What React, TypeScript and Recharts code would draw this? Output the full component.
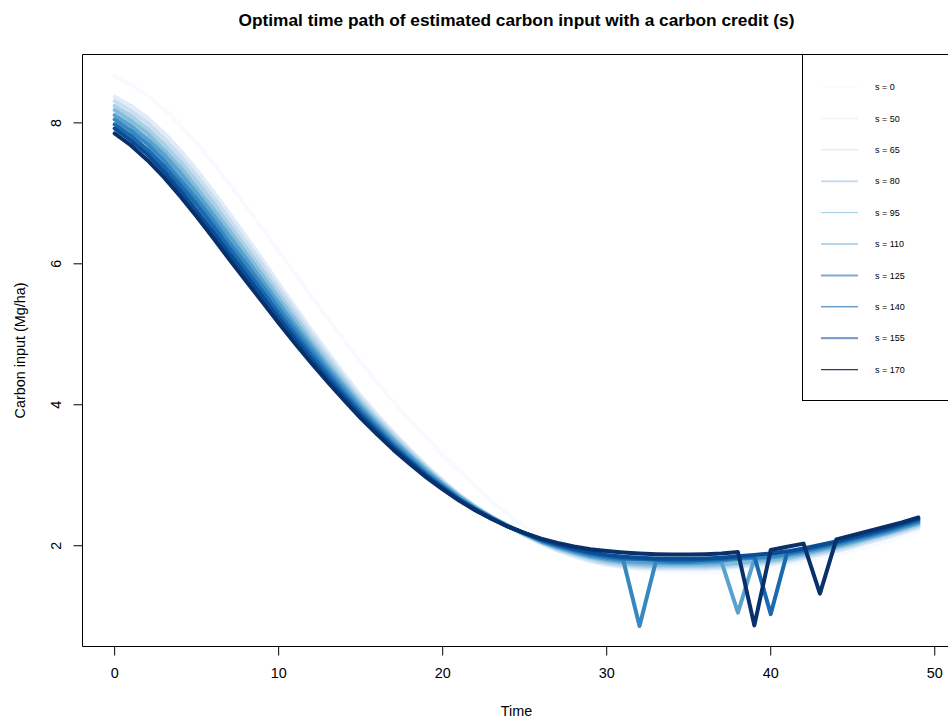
import { LineChart, Line, XAxis, YAxis, ReferenceArea } from 'recharts';

const FONT = '"Liberation Sans", Arial, Helvetica, sans-serif';

const TIME = [
  0, 1, 2, 3, 4, 5, 6, 7, 8, 9, 10, 11, 12, 13, 14, 15, 16, 17, 18, 19, 20, 21, 22, 23, 24,
  25, 26, 27, 28, 29, 30, 31, 32, 33, 34, 35, 36, 37, 38, 39, 40, 41, 42, 43, 44, 45, 46, 47, 48, 49,
];

const CREDITS = [0, 50, 65, 80, 95, 110, 125, 140, 155, 170];
const LEGEND_LABELS = ['s = 0', 's = 50', 's = 65', 's = 80', 's = 95', 's = 110', 's = 125', 's = 140', 's = 155', 's = 170'];

const X_TICKS = [0, 10, 20, 30, 40, 50];
const Y_TICKS = [2, 4, 6, 8];

// carbon input (Mg/ha) per year, one list per credit level
const S0 = [
  8.66, 8.54, 8.39, 8.2, 7.97, 7.71, 7.43, 7.13, 6.82, 6.5, 6.18, 5.86, 5.54, 5.22, 4.91, 4.61, 4.32, 4.04, 3.78, 3.53, 3.29, 3.06, 2.84, 2.63, 2.44,
  2.27, 2.12, 1.99, 1.87, 1.79, 1.73, 1.69, 1.66, 1.64, 1.63, 1.62, 1.62, 1.63, 1.64, 1.66, 1.69, 1.72, 1.77, 1.82, 1.87, 1.93, 1.99, 2.06, 2.13, 2.21,
];
const S50 = [
  8.37, 8.24, 8.07, 7.86, 7.61, 7.33, 7.03, 6.71, 6.39, 6.06, 5.72, 5.39, 5.06, 4.74, 4.43, 4.13, 3.86, 3.61, 3.37, 3.14, 2.93, 2.73, 2.56, 2.41, 2.28,
  2.15, 2.03, 1.93, 1.85, 1.78, 1.73, 1.7, 1.68, 1.67, 1.67, 1.67, 1.67, 1.68, 1.7, 1.72, 1.74, 1.77, 1.82, 1.87, 1.92, 1.98, 2.05, 2.11, 2.18, 2.25,
];
const S65 = [
  8.31, 8.17, 8.0, 7.78, 7.53, 7.25, 6.95, 6.63, 6.31, 5.99, 5.65, 5.33, 5.0, 4.69, 4.38, 4.09, 3.83, 3.58, 3.34, 3.12, 2.91, 2.72, 2.55, 2.41, 2.28,
  2.15, 2.04, 1.94, 1.87, 1.8, 1.75, 1.72, 1.7, 1.69, 1.69, 1.69, 1.69, 1.7, 1.72, 1.74, 1.76, 1.79, 1.84, 1.89, 1.94, 2.0, 2.07, 2.13, 2.2, 2.27,
];
const S80 = [
  8.24, 8.1, 7.92, 7.7, 7.45, 7.17, 6.87, 6.55, 6.23, 5.91, 5.58, 5.26, 4.94, 4.64, 4.34, 4.05, 3.79, 3.55, 3.32, 3.1, 2.9, 2.71, 2.55, 2.4, 2.28,
  2.16, 2.05, 1.96, 1.88, 1.82, 1.77, 1.74, 1.72, 1.71, 1.71, 1.71, 1.71, 1.72, 1.74, 1.76, 1.78, 1.81, 1.86, 1.91, 1.96, 2.02, 2.09, 2.15, 2.22, 2.29,
];
const S95 = [
  8.18, 8.03, 7.85, 7.62, 7.37, 7.08, 6.78, 6.47, 6.15, 5.84, 5.51, 5.2, 4.88, 4.58, 4.29, 4.01, 3.76, 3.52, 3.29, 3.08, 2.88, 2.7, 2.54, 2.4, 2.28,
  2.16, 2.06, 1.97, 1.9, 1.84, 1.79, 1.76, 1.74, 1.73, 1.73, 1.73, 1.73, 1.74, 1.76, 1.78, 1.8, 1.83, 1.88, 1.93, 1.98, 2.04, 2.11, 2.17, 2.24, 2.31,
];
const S110 = [
  8.11, 7.96, 7.77, 7.55, 7.29, 7.0, 6.7, 6.39, 6.08, 5.76, 5.44, 5.13, 4.83, 4.53, 4.25, 3.97, 3.72, 3.49, 3.27, 3.06, 2.87, 2.69, 2.53, 2.4, 2.28,
  2.17, 2.06, 1.98, 1.91, 1.85, 1.81, 1.78, 1.77, 1.76, 1.75, 1.75, 1.76, 1.77, 1.05, 1.81, 1.83, 1.86, 1.9, 1.95, 2.0, 2.06, 2.12, 2.18, 2.25, 2.32,
];
const S125 = [
  8.05, 7.89, 7.7, 7.47, 7.2, 6.92, 6.62, 6.3, 6.0, 5.69, 5.37, 5.07, 4.77, 4.48, 4.2, 3.93, 3.69, 3.45, 3.24, 3.03, 2.85, 2.67, 2.52, 2.39, 2.27,
  2.17, 2.07, 1.99, 1.93, 1.87, 1.83, 1.8, 0.86, 1.78, 1.77, 1.77, 1.78, 1.79, 1.81, 1.83, 1.85, 1.88, 1.92, 1.97, 2.02, 2.08, 2.14, 2.2, 2.27, 2.34,
];
const S140 = [
  7.98, 7.82, 7.62, 7.39, 7.12, 6.84, 6.54, 6.22, 5.92, 5.61, 5.3, 5.0, 4.71, 4.43, 4.15, 3.89, 3.65, 3.42, 3.21, 3.01, 2.83, 2.66, 2.52, 2.39, 2.27,
  2.18, 2.08, 2.01, 1.94, 1.89, 1.85, 1.82, 1.81, 1.8, 1.79, 1.79, 1.8, 1.81, 1.83, 1.85, 1.03, 1.9, 1.94, 1.99, 2.04, 2.1, 2.16, 2.22, 2.29, 2.36,
];
const S155 = [
  7.92, 7.75, 7.55, 7.31, 7.04, 6.75, 6.45, 6.14, 5.84, 5.54, 5.23, 4.94, 4.65, 4.37, 4.11, 3.85, 3.62, 3.39, 3.19, 2.99, 2.82, 2.65, 2.51, 2.38, 2.27,
  2.18, 2.09, 2.02, 1.96, 1.91, 1.87, 1.845, 1.83, 1.82, 1.815, 1.815, 1.82, 1.83, 1.85, 1.87, 1.89, 1.92, 1.96, 2.01, 2.06, 2.12, 2.18, 2.24, 2.31, 2.38,
];
const S170 = [
  7.85, 7.68, 7.47, 7.23, 6.96, 6.67, 6.37, 6.06, 5.76, 5.46, 5.16, 4.87, 4.59, 4.32, 4.06, 3.81, 3.58, 3.36, 3.16, 2.97, 2.8, 2.64, 2.5, 2.38, 2.27,
  2.18, 2.1, 2.04, 1.99, 1.95, 1.925, 1.905, 1.89, 1.88, 1.875, 1.875, 1.88, 1.89, 1.91, 0.87, 1.94, 1.985, 2.03, 1.32, 2.09, 2.15, 2.21, 2.27, 2.33, 2.4,
];

const SERIES = [S0, S50, S65, S80, S95, S110, S125, S140, S155, S170];

const LINE_COLORS = [
  '#F7FBFF', '#E0ECF8', '#CBDEF1', '#ABD0E6', '#84BCDB',
  '#59A2CF', '#3787C0', '#1B69AF', '#084D96', '#08306B',
];
const LEGEND_COLORS = [
  '#F3F7FC', '#EDF3F9', '#D6E4F2', '#C9DCEF', '#9FCAE3',
  '#6FAAD8', '#7DA9D6', '#2A6DB5', '#7D9FCC', '#1F3D6E',
];
const LEGEND_WIDTHS = [1, 1.5, 1, 2, 1, 1, 2, 1, 2.2, 1.2];

const rows = TIME.map((t, i) => {
  const row: Record<string, number> = { t };
  CREDITS.forEach((s, k) => {
    row['s' + s] = SERIES[k][i];
  });
  return row;
});

function XTick({ x, y, payload }: any) {
  return (
    <g>
      <line x1={x} y1={y} x2={x} y2={y + 9} stroke="#000" />
      <text x={x} y={y + 31} textAnchor="middle" fontSize={14.4} fontFamily={FONT} fill="#000">
        {payload.value}
      </text>
    </g>
  );
}

function YTick({ x, y, payload }: any) {
  const bx = x - 21.5;
  return (
    <g>
      <line x1={x - 9} y1={y} x2={x} y2={y} stroke="#000" />
      <text
        x={bx}
        y={y}
        transform={`rotate(-90 ${bx} ${y})`}
        textAnchor="middle"
        fontSize={14.4}
        fontFamily={FONT}
        fill="#000"
      >
        {payload.value}
      </text>
    </g>
  );
}

function LegendBox() {
  return (
    <div
      style={{
        position: 'absolute',
        left: 802,
        top: 54,
        width: 200,
        height: 347,
        border: '1px solid #000',
        boxSizing: 'border-box',
        background: '#fff',
      }}
    >
      <svg width={198} height={345} style={{ position: 'absolute', left: 0, top: 0 }}>
        {LEGEND_LABELS.map((label, i) => {
          const cy = 32 + 31.4 * i;
          return (
            <g key={label}>
              <line x1={18} x2={55} y1={cy} y2={cy} stroke={LEGEND_COLORS[i]} strokeWidth={LEGEND_WIDTHS[i]} />
              <text x={72} y={cy + 3.2} fontSize={9} fontFamily={FONT} fill="#000">
                {label}
              </text>
            </g>
          );
        })}
      </svg>
    </div>
  );
}

export default function App() {
  return (
    <div
      style={{
        position: 'absolute',
        left: 0,
        top: 0,
        width: 948,
        height: 724,
        overflow: 'hidden',
        background: '#fff',
      }}
    >
      <LineChart width={951} height={724} data={rows} margin={{ top: 54.5, right: 0.5, bottom: 0, left: 0 }}>
        <XAxis
          dataKey="t"
          type="number"
          domain={[-1.96, 50.96]}
          ticks={X_TICKS}
          interval={0}
          allowDataOverflow
          axisLine={false}
          tickLine={false}
          tickSize={0}
          tickMargin={0}
          height={77.5}
          tick={<XTick />}
        />
        <YAxis
          type="number"
          domain={[0.57, 8.97]}
          ticks={Y_TICKS}
          interval={0}
          allowDataOverflow
          axisLine={false}
          tickLine={false}
          tickSize={0}
          tickMargin={0}
          width={82.5}
          tick={<YTick />}
        />
        <ReferenceArea
          x1={-1.96}
          x2={50.96}
          y1={0.57}
          y2={8.97}
          fill="none"
          fillOpacity={0}
          stroke="#000"
          strokeWidth={1}
          strokeOpacity={1}
          ifOverflow="visible"
        />
        {CREDITS.map((s, k) => (
          <Line
            key={s}
            type="linear"
            dataKey={'s' + s}
            stroke={LINE_COLORS[k]}
            strokeWidth={4}
            strokeLinejoin="round"
            strokeLinecap="round"
            dot={false}
            activeDot={false}
            isAnimationActive={false}
          />
        ))}
      </LineChart>

      <svg width={948} height={724} style={{ position: 'absolute', left: 0, top: 0, pointerEvents: 'none' }}>
        <text x={516.5} y={26} textAnchor="middle" fontSize={17.3} fontWeight="bold" fontFamily={FONT} fill="#000">
          Optimal time path of estimated carbon input with a carbon credit (s)
        </text>
        <text x={516.5} y={716} textAnchor="middle" fontSize={14.4} fontFamily={FONT} fill="#000">
          Time
        </text>
        <text
          x={25}
          y={350.5}
          transform="rotate(-90 25 350.5)"
          textAnchor="middle"
          fontSize={14.4}
          fontFamily={FONT}
          fill="#000"
        >
          Carbon input (Mg/ha)
        </text>
      </svg>

      <LegendBox />
    </div>
  );
}
